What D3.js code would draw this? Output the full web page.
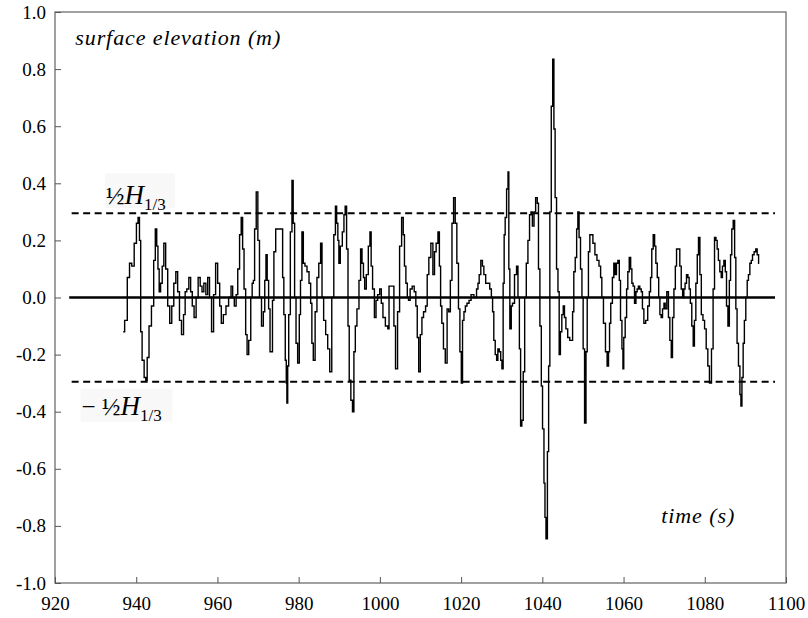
<!DOCTYPE html>
<html>
<head>
<meta charset="utf-8">
<script src="https://cdn.jsdelivr.net/npm/d3@7"></script>
<style>
  html, body { margin: 0; padding: 0; background: #fff; }
  svg { display: block; }
  svg text { font-family: "Liberation Serif", "Times New Roman", Tinos, serif; fill: #000; }
</style>
</head>
<body>
<svg id="chart" width="808" height="618"></svg>
<script>
// ---- data ----
const xTicks = [920, 940, 960, 980, 1000, 1020, 1040, 1060, 1080, 1100];
const yTicks = [-1.0, -0.8, -0.6, -0.4, -0.2, 0.0, 0.2, 0.4, 0.6, 0.8, 1.0];
const halfHs = 0.295;           // ½ H1/3 (m)
const refLineSpan = [923.5, 1097.3]; // time span of the dashed/zero reference lines (s)

const time = [
 936.8,937.5,938.1,938.6,939.2,939.8,940.3,940.6,941.0,941.2,941.7,942.2,942.5,942.9,943.4,944.1,944.5,944.9,945.2,945.5,
 945.8,946.2,946.6,947.0,947.5,948.0,948.5,949.0,949.5,950.0,950.4,950.9,951.4,951.9,952.2,952.7,953.2,953.6,954.0,954.5,
 955.0,955.5,956.0,956.4,956.9,957.4,957.8,958.3,958.8,959.3,959.8,960.3,960.8,961.1,961.8,962.4,963.1,963.6,963.9,964.4,
 964.8,965.2,965.7,966.0,966.4,966.7,967.2,967.4,968.0,968.4,968.7,969.0,969.3,969.8,970.1,970.6,971.1,971.5,971.8,972.1,
 972.4,972.8,973.1,973.4,973.7,974.1,974.6,975.4,975.9,976.2,976.5,976.9,977.0,977.2,977.4,977.7,978.2,978.5,978.8,979.2,
 979.5,980.0,980.3,980.6,981.0,981.3,981.8,982.3,982.8,983.1,983.4,983.8,984.3,984.7,985.2,985.6,985.9,986.4,986.9,987.4,
 987.9,988.4,988.9,989.2,989.5,989.8,990.0,990.5,991.0,991.3,991.6,992.0,992.3,992.6,993.1,993.4,993.8,994.1,994.6,995.1,
 995.4,995.8,996.1,996.4,996.9,997.4,997.7,998.0,998.4,998.9,999.2,999.7,1000.2,1000.5,1001.0,1001.7,1002.2,1002.3,1003.3,1003.6,
 1004.1,1004.6,1005.1,1005.6,1005.9,1006.2,1006.6,1006.9,1007.2,1007.7,1008.2,1008.7,1009.0,1009.4,1009.7,1010.2,1010.5,1011.0,1011.5,1011.8,
 1012.3,1012.8,1013.3,1013.6,1014.1,1014.5,1014.8,1015.1,1015.4,1015.9,1016.3,1016.8,1017.1,1017.6,1017.9,1018.4,1018.7,1019.2,1019.5,1019.9,
 1020.2,1020.5,1020.9,1021.2,1021.7,1022.2,1022.7,1023.0,1023.3,1023.6,1024.0,1024.3,1024.6,1025.1,1025.4,1025.8,1026.3,1026.8,1027.3,1027.6,
 1027.9,1028.2,1028.6,1028.9,1029.2,1029.6,1029.9,1030.2,1030.5,1030.7,1031.0,1031.4,1031.7,1031.8,1032.2,1032.5,1032.8,1033.5,1033.8,1034.2,
 1034.5,1034.8,1035.1,1035.5,1035.8,1036.3,1036.6,1037.1,1037.3,1037.8,1038.1,1038.6,1038.9,1039.2,1039.6,1039.9,1040.2,1040.6,1040.7,1041.1,
 1041.4,1041.7,1042.0,1042.4,1042.7,1043.0,1043.3,1043.7,1044.0,1044.3,1044.6,1045.0,1045.3,1045.6,1046.0,1046.5,1047.0,1047.3,1047.6,1047.9,
 1048.3,1048.6,1048.9,1049.2,1049.6,1049.9,1050.2,1050.6,1050.9,1051.2,1051.5,1051.9,1052.2,1052.7,1053.2,1053.7,1054.2,1054.5,1054.8,1055.3,
 1055.8,1056.1,1056.5,1056.6,1057.1,1057.4,1057.8,1058.1,1058.4,1058.8,1059.1,1059.4,1059.8,1059.9,1060.2,1060.6,1060.9,1061.2,1061.6,1061.9,
 1062.2,1062.5,1062.9,1063.2,1063.5,1063.8,1064.2,1064.5,1064.8,1065.2,1065.7,1066.2,1066.5,1066.8,1067.1,1067.5,1067.8,1068.1,1068.5,1068.8,
 1069.1,1069.4,1069.8,1070.1,1070.4,1070.9,1071.2,1071.6,1071.9,1072.2,1072.6,1072.9,1073.2,1073.7,1074.0,1074.4,1074.7,1075.0,1075.3,1075.7,
 1076.0,1076.3,1076.6,1077.0,1077.3,1077.6,1078.0,1078.3,1078.6,1079.0,1079.3,1079.8,1080.1,1080.6,1080.9,1081.4,1081.9,1082.2,1082.6,1082.9,
 1083.2,1083.5,1083.9,1084.2,1084.5,1084.9,1085.2,1085.5,1085.9,1086.2,1086.5,1086.8,1087.2,1087.5,1087.8,1088.1,1088.5,1088.8,1089.0,1089.3,
 1089.6,1089.9,1090.3,1090.6,1090.9,1091.3,1091.6,1091.9,1092.4,1092.7,1093.1,1093.4
];

const elevation = [
 -0.12,-0.08,0.07,0.12,0.11,0.19,0.26,0.28,0.20,-0.12,-0.22,-0.28,-0.29,-0.21,-0.10,-0.03,0.13,0.24,0.18,0.10,
 0.02,0.05,0.11,0.19,0.10,-0.03,-0.09,-0.03,0.05,0.09,0.02,-0.08,-0.13,-0.06,0.02,0.03,0.07,0.02,-0.03,-0.07,
 0.00,0.07,0.04,0.02,0.05,0.01,0.07,0.00,-0.12,0.01,0.12,0.05,-0.03,-0.09,-0.06,-0.03,0.00,0.04,0.00,-0.03,
 0.01,0.10,0.22,0.28,0.17,0.03,-0.13,-0.20,-0.15,0.00,0.05,0.06,0.24,0.37,0.20,0.00,-0.10,-0.05,0.06,0.15,
 0.06,-0.04,-0.19,-0.19,-0.01,0.16,0.24,0.24,0.24,0.07,-0.06,-0.22,-0.30,-0.37,-0.24,-0.06,0.23,0.41,0.26,0.00,
 -0.16,-0.23,-0.06,0.06,0.23,0.12,0.11,0.09,0.05,-0.02,-0.16,-0.22,-0.05,0.07,0.12,0.19,0.00,-0.08,-0.13,-0.18,
 -0.26,0.00,0.22,0.32,0.26,0.20,0.12,0.18,0.23,0.29,0.32,0.17,-0.10,-0.29,-0.36,-0.40,-0.19,-0.10,-0.04,0.06,
 0.17,0.12,0.07,0.03,0.08,0.18,0.23,0.11,0.03,-0.07,-0.01,0.01,0.03,-0.02,-0.07,-0.10,-0.11,0.04,0.04,-0.10,
 -0.25,-0.05,0.18,0.28,0.22,0.11,0.05,0.00,-0.01,0.03,0.04,0.02,-0.03,-0.14,-0.26,-0.13,-0.07,-0.05,-0.03,0.08,
 0.14,0.19,0.08,0.16,0.19,0.23,0.11,-0.03,-0.09,-0.18,-0.23,-0.04,-0.05,0.06,0.26,0.35,0.26,0.12,-0.04,-0.19,
 -0.30,-0.08,-0.05,-0.03,-0.02,-0.01,0.01,0.01,0.00,0.00,0.03,0.05,0.08,0.13,0.11,0.08,0.05,0.05,0.03,0.00,
 -0.05,-0.15,-0.20,-0.22,-0.18,-0.19,-0.22,-0.25,0.05,0.22,0.28,0.38,0.44,0.10,-0.11,-0.03,-0.02,0.08,0.11,0.00,
 -0.18,-0.45,-0.43,-0.26,0.00,0.12,0.20,0.29,0.30,0.25,0.30,0.35,0.33,0.10,-0.10,-0.31,-0.46,-0.65,-0.77,-0.845,
 -0.54,-0.24,0.30,0.67,0.835,0.59,0.35,0.10,0.02,-0.20,-0.12,-0.06,-0.03,-0.07,-0.11,-0.14,-0.15,-0.15,-0.05,0.09,
 0.14,0.24,0.30,0.21,0.10,0.00,-0.18,-0.44,-0.19,0.00,0.16,0.22,0.22,0.19,0.15,0.13,0.11,0.07,0.00,-0.09,
 -0.19,-0.24,-0.19,-0.09,-0.02,0.07,0.12,0.08,0.12,0.13,0.06,-0.08,-0.18,-0.25,-0.14,-0.07,0.03,0.09,0.14,0.10,
 0.05,0.04,-0.02,0.02,0.03,0.04,0.03,0.02,-0.04,-0.09,-0.08,-0.03,0.02,0.07,0.17,0.22,0.18,0.12,0.07,0.00,
 -0.06,-0.07,-0.04,-0.02,-0.04,0.02,-0.07,-0.15,-0.21,-0.07,0.03,0.11,0.17,0.17,0.11,0.03,0.00,0.03,0.05,0.08,
 0.07,0.03,-0.02,-0.10,-0.17,-0.08,0.05,0.15,0.21,0.08,-0.06,-0.08,-0.11,-0.18,-0.24,-0.30,-0.18,0.03,0.21,0.20,
 0.17,0.13,0.09,0.07,0.11,0.13,0.09,-0.03,-0.10,0.06,0.15,0.24,0.27,0.14,-0.04,-0.16,-0.24,-0.34,-0.38,-0.28,
 -0.16,-0.08,0.00,0.06,0.08,0.12,0.13,0.15,0.16,0.17,0.15,0.12
];

// ---- layout ----
const chartW = 808, chartH = 618;
const mLeft = 55, mRight = 786, mTop = 12, mBottom = 583;
const serif = '"Liberation Serif", "Times New Roman", Tinos, serif';

const svg = d3.select("#chart");
const x = d3.scaleLinear().domain([920, 1100]).range([mLeft, mRight]);
const y = d3.scaleLinear().domain([-1, 1]).range([mBottom, mTop]);

// frame
svg.append("rect")
  .attr("x", mLeft).attr("y", mTop)
  .attr("width", mRight - mLeft).attr("height", mBottom - mTop)
  .attr("fill", "none").attr("stroke", "#6e6e6e").attr("stroke-width", 1.3);

// y axis (ticks inward), hyphen-minus labels like the reference
const fmtY = d => (Math.abs(d) < 1e-9 ? "0.0" : d3.format(".1f")(d).replace("\u2212", "-"));
const yAxis = d3.axisLeft(y).tickValues(yTicks).tickSize(-6).tickPadding(8).tickFormat(fmtY);
const gy = svg.append("g").attr("transform", `translate(${mLeft},0)`).call(yAxis)
  .attr("font-family", null);
gy.select(".domain").remove();
gy.selectAll("line").attr("stroke", "#555");
gy.selectAll("text").attr("x", -9).style("font-size", "19px").style("font-family", serif);

// x axis (ticks inward)
const xAxis = d3.axisBottom(x).tickValues(xTicks).tickSize(-6).tickPadding(14)
  .tickFormat(d3.format("d"));
const gx = svg.append("g").attr("transform", `translate(0,${mBottom})`).call(xAxis)
  .attr("font-family", null);
gx.select(".domain").remove();
gx.selectAll("line").attr("stroke", "#555");
gx.selectAll("text").style("font-size", "19px").style("font-family", serif);

// reference lines
svg.append("line")
  .attr("x1", x(refLineSpan[0])).attr("x2", x(refLineSpan[1]))
  .attr("y1", y(0)).attr("y2", y(0))
  .attr("stroke", "#000").attr("stroke-width", 2.6);
[halfHs, -halfHs].forEach(v => {
  svg.append("line")
    .attr("x1", x(refLineSpan[0] + 0.6)).attr("x2", x(refLineSpan[1]))
    .attr("y1", y(v)).attr("y2", y(v))
    .attr("stroke", "#000").attr("stroke-width", 2)
    .attr("stroke-dasharray", "7,4.5");
});

// series (stepped trace)
const pts = time.map((t, i) => [t, elevation[i]]);
svg.append("path")
  .datum(pts)
  .attr("fill", "none")
  .attr("stroke", "#000")
  .attr("stroke-width", 1.4)
  .attr("d", d3.line().curve(d3.curveStep).x(d => x(d[0])).y(d => y(d[1])));

// annotations
svg.append("text")
  .attr("x", x(925)).attr("y", mTop + 33)
  .style("font-family", serif)
  .style("font-size", "22px").style("font-style", "italic").style("letter-spacing", "0.9px")
  .text("surface elevation (m)");

svg.append("text")
  .attr("x", x(1069.3)).attr("y", y(-0.79))
  .style("font-family", serif)
  .style("font-size", "22px").style("font-style", "italic").style("letter-spacing", "0.9px")
  .text("time (s)");

function hLabel(xPos, yBase, withMinus) {
  const t = svg.append("text").attr("x", xPos).attr("y", yBase).style("font-family", serif);
  if (withMinus) t.append("tspan").style("font-size", "25px").text("\u2212 ");
  t.append("tspan").style("font-size", "25px").text("\u00BD");
  t.append("tspan").style("font-size", "27px").style("font-style", "italic").text("H");
  t.append("tspan").style("font-size", "17px").attr("dy", 6).text("1/3");
}
// label backgrounds (faint boxes in the reference)
svg.append("rect").attr("x", x(932.3)).attr("y", y(halfHs) - 40).attr("width", 70).attr("height", 35)
  .attr("fill", "#f8f8f8");
svg.append("rect").attr("x", x(926.3)).attr("y", y(-halfHs) + 7).attr("width", 92).attr("height", 33)
  .attr("fill", "#f8f8f8");
hLabel(x(932.5), y(halfHs) - 9, false);
hLabel(x(926.5), y(-halfHs) + 33, true);
</script>
</body>
</html>
